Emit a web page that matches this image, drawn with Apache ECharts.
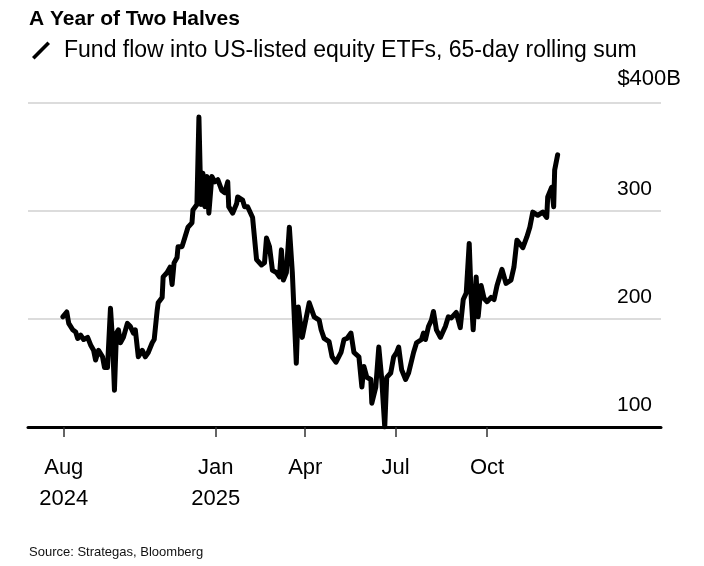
<!DOCTYPE html>
<html>
<head>
<meta charset="utf-8">
<script src="https://cdn.jsdelivr.net/npm/echarts@6/dist/echarts.min.js"></script>
<style>html,body{margin:0;padding:0;background:#fff;}#c{width:704px;height:566px;}</style>
</head>
<body>
<div id="c"></div>
<script>
const dates = ["2024-07-31","2024-08-04","2024-08-06","2024-08-10","2024-08-13","2024-08-15","2024-08-18","2024-08-21","2024-08-25","2024-08-28","2024-08-31",
"2024-09-02","2024-09-05","2024-09-09","2024-09-11","2024-09-14","2024-09-17","2024-09-19","2024-09-21","2024-09-23","2024-09-25","2024-09-27","2024-09-30",
"2024-10-04","2024-10-07","2024-10-10","2024-10-12","2024-10-15","2024-10-19","2024-10-22","2024-10-25","2024-10-29","2024-10-31",
"2024-11-03","2024-11-04","2024-11-08","2024-11-09","2024-11-13","2024-11-16","2024-11-18","2024-11-20","2024-11-23","2024-11-24","2024-11-28",
"2024-12-01","2024-12-04","2024-12-08","2024-12-09","2024-12-13","2024-12-15","2024-12-17","2024-12-19","2024-12-21","2024-12-23","2024-12-25","2024-12-28","2024-12-31",
"2025-01-03","2025-01-07","2025-01-10","2025-01-13","2025-01-14","2025-01-18","2025-01-22","2025-01-23","2025-01-28","2025-01-30",
"2025-02-02","2025-02-07","2025-02-11","2025-02-16","2025-02-19","2025-02-21","2025-02-24","2025-02-27",
"2025-03-03","2025-03-06","2025-03-08","2025-03-10","2025-03-13","2025-03-16","2025-03-19","2025-03-23","2025-03-25","2025-03-29",
"2025-04-05","2025-04-10","2025-04-15","2025-04-17","2025-04-20","2025-04-25","2025-04-28",
"2025-05-02","2025-05-07","2025-05-10","2025-05-13","2025-05-17","2025-05-20","2025-05-25","2025-05-28","2025-05-30",
"2025-06-02","2025-06-06","2025-06-07","2025-06-11","2025-06-14","2025-06-17","2025-06-20","2025-06-22","2025-06-26","2025-06-29",
"2025-07-02","2025-07-04","2025-07-07","2025-07-11","2025-07-14","2025-07-19","2025-07-22","2025-07-27","2025-07-29","2025-07-31",
"2025-08-03","2025-08-06","2025-08-08","2025-08-11","2025-08-15","2025-08-20","2025-08-23","2025-08-26","2025-08-31",
"2025-09-04","2025-09-07","2025-09-10","2025-09-13","2025-09-15","2025-09-17","2025-09-20","2025-09-22","2025-09-25","2025-09-28","2025-10-01",
"2025-10-05","2025-10-08","2025-10-11","2025-10-16","2025-10-20","2025-10-25","2025-10-28","2025-10-31",
"2025-11-06","2025-11-10","2025-11-13","2025-11-16","2025-11-21","2025-11-26","2025-11-30","2025-12-01",
"2025-12-05","2025-12-07","2025-12-08","2025-12-11"];

const flows = [202,206.5,196,190,188,182,185,181,183,176,171,
162,171,165,155,155,210,181,134,187,190,178,183,
196,193,187,190,165,171,165,169,178,181,
208,215,220,239,243,248,232,252,257,267,267,
276,285,289,301,306,387,306,335,304,332,298,332,327,
329,319,317,327,304,298,307,313,310,304,
304,294,255,250,252,275,267,245,
243,239,264,236,243,285,243,159,211,183,
215,202,199,190,182,179,165,
160,169,181,182,187,169,165,137,156,
146,144,122,137,174,144,100,146,150,165,
169,174,153,144,150,169,178,181,187,181,
193,199,207,190,183,193,202,201,206,
192,218,224,270,220,190,239,202,231,219,216,
220,218,231,246,233,236,248,273,
266,276,285,299,296,299,294,313,
322,304,338,352];

const tickDates = ["2024-08-01","2025-01-01","2025-04-01","2025-07-01","2025-10-01"];
const tickLabels = ["Aug\n2024","Jan\n2025","Apr","Jul","Oct"];
const yTicks = [100,200,300,400];

const seriesName = "Fund flow into US-listed equity ETFs, 65-day rolling sum";

function toTime(s){ const p=s.split('-').map(Number); return new Date(p[0],p[1]-1,p[2]).getTime(); }
const tickTimes = tickDates.map(toTime);
const seriesData = dates.map((d,i)=>[toTime(d), flows[i]]);

const FONT = "'Liberation Sans', Arial, sans-serif";
const chart = echarts.init(document.getElementById('c'), null, {renderer:'canvas'});
chart.setOption({
  animation:false,
  backgroundColor:'#fff',
  textStyle:{fontFamily:FONT, color:'#000'},
  title:[
    {text:'A Year of Two Halves', left:29, top:9, padding:0, textStyle:{fontFamily:FONT, fontSize:21, fontWeight:'bold', color:'#000'}},
    {text:'Source: Strategas, Bloomberg', left:29, top:546, padding:0, textStyle:{fontFamily:FONT, fontSize:13, fontWeight:'normal', color:'#111'}}
  ],
  legend:{
    data:[seriesName], left:32, top:39, padding:0, selectedMode:false,
    icon:'path://M0,18 L3,21 L21,3 L18,0 Z', itemWidth:18, itemHeight:20,
    textStyle:{fontFamily:FONT, fontSize:23, color:'#000', padding:[0,0,0,9]}
  },
  grid:{left:28, right:43, top:103, bottom:139, containLabel:false},
  xAxis:{
    type:'value', min:toTime('2024-06-26'), max:toTime('2026-03-25'),
    axisLine:{show:true, lineStyle:{color:'#000', width:3}},
    axisTick:{show:true, customValues:tickTimes, length:10, lineStyle:{color:'#333', width:1.5}},
    axisLabel:{customValues:tickTimes, fontFamily:FONT, fontSize:22, lineHeight:31, margin:25, color:'#000',
      formatter:function(v){ const i=tickTimes.indexOf(v); return i>=0?tickLabels[i]:''; }},
    splitLine:{show:false}
  },
  yAxis:{
    type:'value', position:'right', min:yTicks[0], max:yTicks[yTicks.length-1], interval:100,
    axisLine:{show:false}, axisTick:{show:false},
    splitLine:{show:true, lineStyle:{color:'#dcdcdc', width:2}},
    axisLabel:{margin:20, align:'right', verticalAlign:'bottom', lineHeight:44,
      formatter:function(v){ return v===400 ? '{a|$400B}' : '{n|'+v+'}'; },
      rich:{
        a:{fontFamily:FONT, fontSize:22, lineHeight:48, color:'#000'},
        n:{fontFamily:FONT, fontSize:21, lineHeight:44, color:'#000', padding:[0,29,0,0]}
      }}
  },
  series:[{
    name:seriesName, type:'line', data:seriesData, showSymbol:false, symbol:'none',
    lineStyle:{color:'#000', width:5, join:'round', cap:'round'},
    itemStyle:{color:'#000'}
  }]
});
</script>
</body>
</html>
